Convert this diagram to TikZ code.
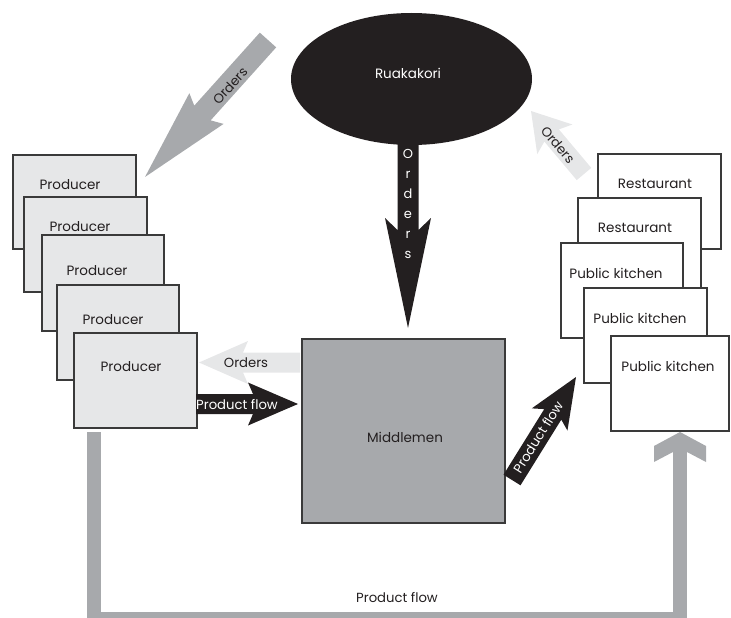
\documentclass[tikz,border=0pt]{standalone}
\usepackage{fontspec}
\setmainfont{Poppins}
\usetikzlibrary{shapes.geometric,calc}
\definecolor{midgray}{HTML}{A7A9AC}
\definecolor{lightfill}{HTML}{E6E7E8}
\definecolor{inkblack}{HTML}{231F20}
\definecolor{boxline}{HTML}{3A3A3A}
\newcommand\fatarrow[7]{%
  \pgfpointanchor{#1}{center}\pgfgetlastxy{\faAx}{\faAy}%
  \pgfpointanchor{#2}{center}\pgfgetlastxy{\faBx}{\faBy}%
  \pgfmathsetmacro\faAng{atan2(\faBy-\faAy,\faBx-\faAx)}%
  \pgfmathsetmacro\faLen{veclen(\faBx-\faAx,\faBy-\faAy)}%
  \pgfmathsetmacro\faBack{\faLen-#5}%
  \pgfmathsetmacro\faJoin{\faLen-#5+#6}%
  \begin{scope}[shift={(#1)}, rotate=\faAng, x=1pt, y=1pt]
    \fill[#7] (0,#3/2) -- (\faJoin,#3/2) -- (\faBack,#4/2) -- (\faLen,0)
      -- (\faBack,-#4/2) -- (\faJoin,-#3/2) -- (0,-#3/2) -- cycle;
  \end{scope}}
\tikzset{
  prodbox/.style={draw=boxline, line width=1.1pt, fill=lightfill, inner sep=0pt},
  restbox/.style={draw=boxline, line width=1.1pt, fill=white, inner sep=0pt},
  boxtext/.style={text=inkblack, inner sep=0pt, font=\fontsize{13.5}{15}\selectfont},
  arrowtext/.style={inner sep=0pt, font=\fontsize{13.2}{15}\selectfont},
  flowline/.style={draw=midgray, line width=14pt, line join=miter},
}
\begin{document}
\begin{tikzpicture}[x=1pt,y=-1pt]
\useasboundingbox (0,0) rectangle (731,618);
% producers
\node[prodbox, minimum width=123, minimum height=94] (p1) at (74.5,202) {};
\node[boxtext] (t1) at (70,185) {Producer};
\node[prodbox, minimum width=123, minimum height=95] (p2) at (85.5,244.5) {};
\node[boxtext] (t2) at (80,227) {Producer};
\node[prodbox, minimum width=122, minimum height=96] (p3) at (103,283) {};
\node[boxtext] (t3) at (97,271) {Producer};
\node[prodbox, minimum width=122, minimum height=95] (p4) at (118,332.5) {};
\node[boxtext] (t4) at (113,320) {Producer};
\node[prodbox, minimum width=123, minimum height=95] (p5) at (135.5,380.5) {};
\node[boxtext] (t5) at (131,367) {Producer};
% restaurants and kitchens
\node[restbox, minimum width=123, minimum height=95] (r1) at (659.5,201.5) {};
\node[boxtext] (tr1) at (655,184) {Restaurant};
\node[restbox, minimum width=123, minimum height=95] (r2) at (639.5,245.5) {};
\node[boxtext] (tr2) at (635,228) {Restaurant};
\node[restbox, minimum width=122, minimum height=95] (k1) at (622,290.5) {};
\node[boxtext] (tk1) at (616,273) {Public kitchen};
\node[restbox, minimum width=123, minimum height=95] (k2) at (645.5,335.5) {};
\node[boxtext] (tk2) at (640,318) {Public kitchen};
\node[restbox, minimum width=118, minimum height=95] (k3) at (670,383.5) {};
\node[boxtext] (tk3) at (668,366) {Public kitchen};
% middlemen
\node[draw=boxline, line width=1.1pt, fill=midgray, inner sep=0pt, minimum width=203, minimum height=184] (mid) at (403.5,431) {};
\node[boxtext] (tmid) at (405,437) {Middlemen};
% Ruakakori
\node[ellipse, fill=inkblack, inner sep=0pt, minimum width=241, minimum height=132] (rua) at (411.5,79) {};
\node[boxtext, text=white] (trua) at (408,73) {Ruakakori};
% arrow end points
\coordinate (aS) at (268,40);   \coordinate (aE) at (145,177);
\coordinate (bS) at (408,138);  \coordinate (bE) at (408,328);
\coordinate (cS) at (584,174);  \coordinate (cE) at (531,111);
\coordinate (dS) at (300,362.5);\coordinate (dE) at (199,362.5);
\coordinate (eS) at (196,404);  \coordinate (eE) at (298,404);
\coordinate (fS) at (512,480);  \coordinate (fE) at (576,377);
\fatarrow{aS}{aE}{22}{46}{92}{6}{midgray}
\fatarrow{bS}{bE}{21}{46}{110}{12}{inkblack}
\fatarrow{cS}{cE}{19}{46}{37}{5}{lightfill}
\fatarrow{dS}{dE}{20}{43}{49}{5}{lightfill}
\fatarrow{eS}{eE}{20}{43}{50}{5}{inkblack}
\fatarrow{fS}{fE}{20}{42}{50}{6}{inkblack}
% arrow labels
\node[arrowtext, text=inkblack, rotate=48] (la) at (230,86) {Orders};
\node[arrowtext, text=white, align=center, font=\fontsize{13}{20}\selectfont] (lb) at (408,204) {O\\r\\d\\e\\r\\s};
\node[arrowtext, text=inkblack, rotate=-50] (lc) at (558,145) {Orders};
\node[arrowtext, text=inkblack] (ld) at (246,363) {Orders};
\node[arrowtext, text=white] (le) at (237,405) {Product flow};
\node[arrowtext, text=white, rotate=58] (lf) at (538,437) {Product flow};
% bottom product flow
\coordinate (gS) at (94,432);
\coordinate (gB) at (0,619);
\coordinate (gE) at (680,452);
\coordinate (gT) at (680,432);
\draw[flowline] (gS) -- (gS |- gB) -- (gE |- gB) -- (gE);
\fill[midgray] (gT) -- ++(-26,14) -- ++(0,16) -- ++(19,-10) -- ++(14,0) -- ++(19,10) -- ++(0,-16) -- cycle;
\node[arrowtext, text=inkblack] (lg) at (397,598) {Product flow};
\end{tikzpicture}
\end{document}
